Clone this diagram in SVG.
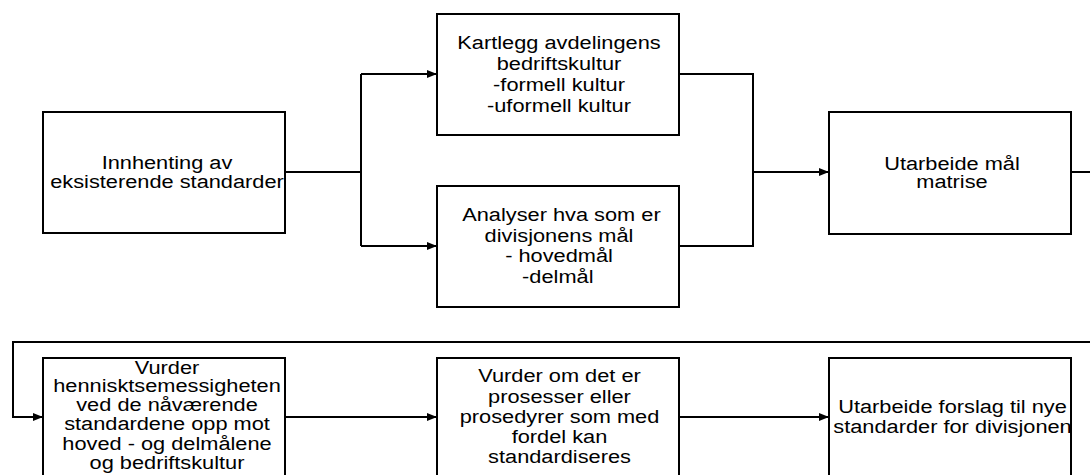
<svg xmlns="http://www.w3.org/2000/svg" width="1090" height="475" viewBox="0 0 1090 475">
  <style>
    .box { fill: #ffffff; stroke: #000000; stroke-width: 2; }
    .wire { fill: none; stroke: #000000; stroke-width: 2; }
    .lbl { font-family: "Liberation Sans", Arial, sans-serif; font-size: 18px; fill: #000000; text-anchor: middle; }
  </style>
  <defs>
    <marker id="arrow" markerUnits="userSpaceOnUse" markerWidth="10" markerHeight="8" refX="10" refY="4" orient="auto">
      <path d="M0,0 L10,4 L0,8 Z" fill="#000000"/>
    </marker>
  </defs>
  <rect width="1090" height="475" fill="#ffffff"/>

  <!-- connectors -->
  <g id="connectors">
    <path class="wire" d="M285,172 H361"/>
    <path class="wire" d="M361,74 V246"/>
    <path class="wire" d="M361,74 H437" marker-end="url(#arrow)"/>
    <path class="wire" d="M361,246 H437" marker-end="url(#arrow)"/>
    <path class="wire" d="M679,74 H753 V246 H679"/>
    <path class="wire" d="M753,172 H829" marker-end="url(#arrow)"/>
    <path class="wire" d="M1071,172 H1092"/>
    <path class="wire" d="M1092,342 H13 V417 H43" marker-end="url(#arrow)"/>
    <path class="wire" d="M285,417 H437" marker-end="url(#arrow)"/>
    <path class="wire" d="M679,417 H829" marker-end="url(#arrow)"/>
  </g>

  <!-- row 1 -->
  <g id="innhenting">
    <rect class="box" x="43" y="112" width="242" height="121"/>
    <g transform="translate(167 0) scale(1.21 1)">
      <text class="lbl" x="0" y="169.5">Innhenting av</text>
      <text class="lbl" x="0" y="188">eksisterende standarder</text>
    </g>
  </g>

  <g id="kartlegg">
    <rect class="box" x="437" y="14" width="242" height="121"/>
    <g transform="translate(559 0) scale(1.21 1)">
      <text class="lbl" x="0" y="49">Kartlegg avdelingens</text>
      <text class="lbl" x="0" y="70">bedriftskultur</text>
      <text class="lbl" x="0" y="91">-formell kultur</text>
      <text class="lbl" x="0" y="112">-uformell kultur</text>
    </g>
  </g>

  <g id="analyser">
    <rect class="box" x="437" y="186" width="242" height="121"/>
    <g transform="translate(559 0) scale(1.21 1)">
      <text class="lbl" x="2" y="221">Analyser hva som er</text>
      <text class="lbl" x="0" y="242">divisjonens mål</text>
      <text class="lbl" x="0" y="262">- hovedmål</text>
      <text class="lbl" x="-1" y="283">-delmål</text>
    </g>
  </g>

  <g id="maalmatrise">
    <rect class="box" x="829" y="112" width="242" height="122"/>
    <g transform="translate(952 0) scale(1.21 1)">
      <text class="lbl" x="0" y="170.5">Utarbeide mål</text>
      <text class="lbl" x="0" y="188.5">matrise</text>
    </g>
  </g>

  <!-- row 2 -->
  <g id="vurder-hensikt">
    <rect class="box" x="43" y="358" width="242" height="121"/>
    <g transform="translate(167 0) scale(1.21 1)">
      <text class="lbl" x="0" y="374">Vurder</text>
      <text class="lbl" x="0" y="392">hennisktsemessigheten</text>
      <text class="lbl" x="0" y="411">ved de nåværende</text>
      <text class="lbl" x="0" y="430.5">standardene opp mot</text>
      <text class="lbl" x="0" y="450">hoved - og delmålene</text>
      <text class="lbl" x="0" y="469.5">og bedriftskultur</text>
    </g>
  </g>

  <g id="vurder-prosesser">
    <rect class="box" x="437" y="358" width="242" height="121"/>
    <g transform="translate(559.5 0) scale(1.21 1)">
      <text class="lbl" x="0" y="382.5">Vurder om det er</text>
      <text class="lbl" x="0" y="403">prosesser eller</text>
      <text class="lbl" x="0" y="423">prosedyrer som med</text>
      <text class="lbl" x="0" y="443">fordel kan</text>
      <text class="lbl" x="0" y="463">standardiseres</text>
    </g>
  </g>

  <g id="nye-standarder">
    <rect class="box" x="829" y="358" width="242" height="121"/>
    <g transform="translate(952.5 0) scale(1.21 1)">
      <text class="lbl" x="0" y="413">Utarbeide forslag til nye</text>
      <text class="lbl" x="0" y="433.5">standarder for divisjonen</text>
    </g>
  </g>
</svg>
